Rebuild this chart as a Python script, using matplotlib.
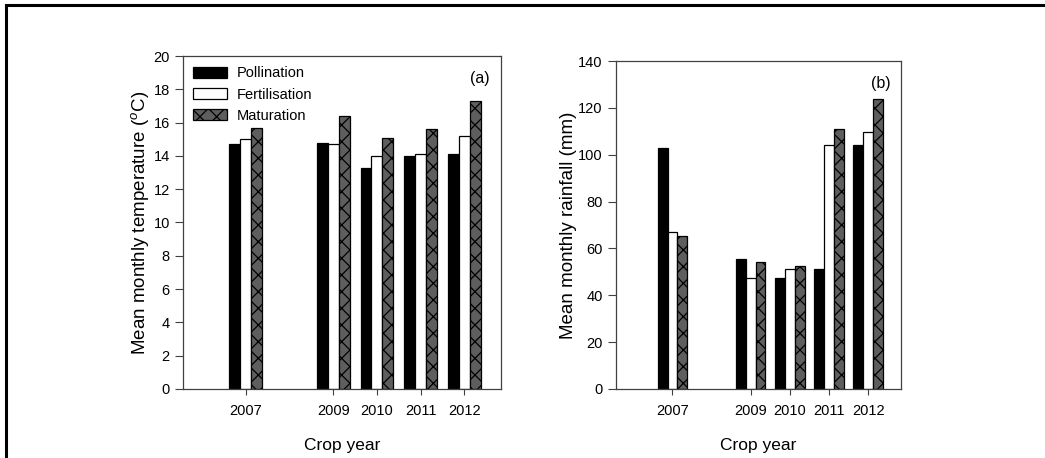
import matplotlib
matplotlib.use('Agg')
import matplotlib.pyplot as plt
import numpy as np
from matplotlib.patches import Rectangle

plt.rcParams['font.family'] = ['Liberation Sans', 'DejaVu Sans']
plt.rcParams['mathtext.fontset'] = 'custom'
plt.rcParams['mathtext.rm'] = 'Liberation Sans'
plt.rcParams['mathtext.it'] = 'Liberation Sans:italic'
plt.rcParams['hatch.linewidth'] = 0.9

# data
years = [2007, 2009, 2010, 2011, 2012]
series = ['Pollination', 'Fertilisation', 'Maturation']

temp_poll = [14.7, 14.8, 13.3, 14.0, 14.1]
temp_fert = [15.0, 14.7, 14.0, 14.1, 15.2]
temp_mat = [15.7, 16.4, 15.1, 15.6, 17.3]

rain_poll = [102.8, 55.4, 47.2, 51.4, 104.2]
rain_fert = [67.1, 47.2, 51.3, 104.1, 109.5]
rain_mat = [65.3, 54.2, 52.7, 110.9, 123.8]

faces = ['black', 'white', '#5e5e5e']
hatches = [None, None, 'xx']
w = 0.25

fig = plt.figure(figsize=(10.45, 4.58), dpi=100)
ax1 = fig.add_axes([0.1751, 0.1507, 0.3043, 0.7270])
ax2 = fig.add_axes([0.5895, 0.1507, 0.2727, 0.7161])

# outer frame (only left and top edges visible in the original crop)
fig.patches.append(Rectangle((6 / 1045, -0.2), 1.5, 1.2 - 5 / 458,
                             transform=fig.transFigure, fill=False,
                             edgecolor='black', linewidth=2.2))

def draw(ax, vals, ylim, yticks, ylabel, tag, ylpad, legend=False):
    x = np.array(years, dtype=float)
    for i, v in enumerate(vals):
        ax.bar(x + (i - 1) * w, v, width=w, color=faces[i], edgecolor='black',
               linewidth=0.9, hatch=hatches[i], label=series[i])
    ax.set_xlim(2005.56, 2012.84)
    ax.set_ylim(*ylim)
    ax.set_yticks(yticks)
    ax.set_xticks(years)
    ax.tick_params(axis='y', direction='out', length=6, width=0.8,
                   labelsize=10.5, color='#404040')
    ax.tick_params(axis='x', direction='out', length=4, width=0.8,
                   labelsize=10.5, pad=7, color='#404040')
    for s in ax.spines.values():
        s.set_color('#404040')
        s.set_linewidth(0.9)
    ax.set_xlabel('Crop year', fontsize=12.5, labelpad=14)
    ax.set_ylabel(ylabel, fontsize=13.5, labelpad=ylpad)
    ax.text(0.965, 0.955, tag, transform=ax.transAxes, ha='right', va='top',
            fontsize=11.5)
    if legend:
        ax.legend(loc='upper left', frameon=False, fontsize=10.5,
                  handlelength=2.3, handleheight=0.8, handletextpad=0.7,
                  labelspacing=0.5, borderaxespad=0.3,
                  bbox_to_anchor=(0.0, 1.0))

draw(ax1, [temp_poll, temp_fert, temp_mat], (0, 20), range(0, 21, 2),
     r'Mean monthly temperature ($^o$C)', '(a)', 2, legend=True)
draw(ax2, [rain_poll, rain_fert, rain_mat], (0, 140), range(0, 141, 20),
     'Mean monthly rainfall (mm)', '(b)', 1)

fig.savefig('out.png', dpi=100)
